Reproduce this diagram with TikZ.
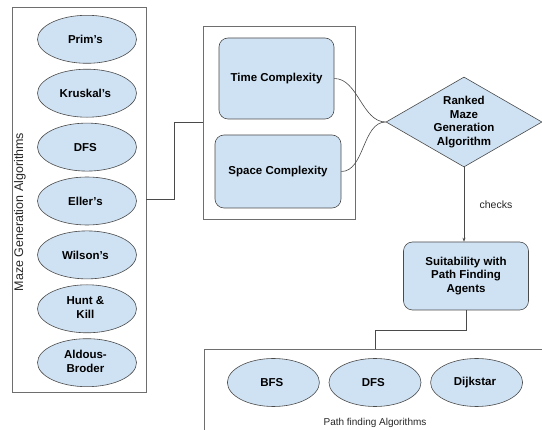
\documentclass[tikz,border=0pt]{standalone}
\usepackage{fontspec}
\setmainfont{Liberation Sans}
\usepackage{tikz}
\usetikzlibrary{matrix,arrows,shapes.geometric}
\usetikzlibrary{arrows.meta}

\definecolor{boxfill}{HTML}{CFE2F3}
\definecolor{boxline}{HTML}{4A4A4A}

\newcommand{\twolines}[2]{\begin{tabular}{@{}c@{}}#1\\#2\end{tabular}}

\tikzset{
	algo/.style={ellipse, draw=boxline, fill=boxfill, align=center, inner sep=0pt,
		font=\fontsize{11.5}{13.5}\selectfont\bfseries},
	crit/.style={rounded corners=9pt, draw=boxline, fill=boxfill, align=center,
		font=\fontsize{11.5}{13.5}\selectfont\bfseries},
	frame/.style={draw=boxline!80, rectangle, inner sep=0pt}
}

\begin{document}
\begin{tikzpicture}[x=1pt, y=-1pt, line width=0.6pt]
\useasboundingbox (0,0) rectangle (542,430);

% frames
\node (mazebox) [frame, minimum width=134pt, minimum height=385pt] at (79,199.5) {};
\node (critbox) [frame, minimum width=152pt, minimum height=193pt] at (279,122.5) {};
\node (pathbox) [frame, minimum width=342pt, minimum height=91pt] at (375,394.5) {};

\node (mazelabel) [rotate=90, font=\fontsize{12.5}{14}\selectfont, text=black!85] at (20,212) {Maze Generation Algorithms};
\node (pathlabel) [font=\fontsize{10}{12}\selectfont, text=black!85] at (375,423) {Path finding Algorithms};

\matrix (gen) [matrix of nodes, row sep=5.3pt, nodes={algo, minimum width=99pt, minimum height=48pt, anchor=center}] at (87,201)
{
	Prim's \\
	Kruskal's \\
	DFS \\
	Eller's \\
	Wilson's \\
	\twolines{Hunt \&}{Kill} \\
	\twolines{Aldous-}{Broder} \\
};

\matrix (find) [matrix of nodes, column sep=9pt, nodes={algo, minimum width=92pt, minimum height=48pt, anchor=center}] at (375,382.5)
{
	BFS & DFS & Dijkstar \\
};

\node (time) [crit, minimum width=115pt, minimum height=81pt] at (276.5,78.5) {Time Complexity};
\node (space) [crit, minimum width=126pt, minimum height=73pt] at (278,171.5) {Space Complexity};

\node (rank) [diamond, draw=boxline, fill=boxfill, aspect=1.7, inner sep=0pt, align=center,
	minimum width=156pt, minimum height=90pt, font=\fontsize{11.5}{13.5}\selectfont\bfseries] at (464,122)
	{Ranked\\Maze\\Generation\\Algorithm};

\node (suit) [crit, minimum width=125pt, minimum height=68pt] at (466,276) {Suitability with\\Path Finding\\Agents};

\draw[boxline] (mazebox.east) -- ++(28,0) |- (critbox.west);
\draw[boxline] (time.east) to[out=0, in=180, looseness=0.9] (rank.west);
\draw[boxline] (space.east) to[out=0, in=180, looseness=0.9] (rank.west);
\path[-{Stealth[length=4pt, width=3pt]}, boxline]
(rank.south) edge node [right=12pt, font=\fontsize{10.5}{12}\selectfont, text=black!85] {checks} (rank.south |- suit.north)
;
\draw[boxline] (suit.south) -- ++(0,20) -| (pathbox.north);
\end{tikzpicture}
\end{document}
